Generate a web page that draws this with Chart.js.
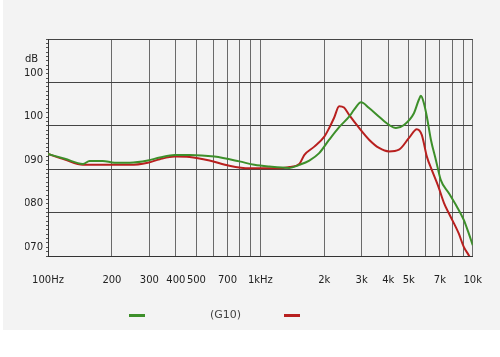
<!DOCTYPE html>
<html>
<head>
<meta charset="utf-8">
<script src="https://cdn.jsdelivr.net/npm/chart.js@4/dist/chart.umd.min.js"></script>
<style>
  html, body { margin: 0; padding: 0; }
  body { width: 500px; height: 357px; background: #ffffff; position: relative; overflow: hidden; font-family: "DejaVu Sans", sans-serif; }
  #bg { position: absolute; left: 3px; top: 0; width: 497px; height: 330px; background: #f3f3f3; }
  #wrap { position: absolute; left: 0; top: 0; width: 500px; height: 357px; }
  .leg { position: absolute; font-size: 11px; color: #444; }
  .swatch { position: absolute; height: 3px; width: 16px; }
</style>
</head>
<body>
<div id="bg"></div>
<div id="wrap"><canvas id="c" width="500" height="357"></canvas></div>
<div id="legend"></div>
<script>
// ---- data ----
const seriesNames = ["(G10)", ""];
const seriesColors = ["#3d8f2a", "#b8201f"];

const greenHz = [100, 120, 146, 157, 181, 206, 243, 295, 336, 395, 464, 608, 796, 937, 1102, 1368, 1525, 1700, 1892, 2109, 2350, 2618, 2763, 2979, 3250, 3622, 4035, 4350, 4745, 5285, 5574, 5698, 5888, 6081, 6353, 6700, 7075, 7709, 8410, 9073, 9576, 10000];
const greenDb = [93.5, 92.4, 91.2, 91.9, 91.9, 91.5, 91.5, 92.0, 92.7, 93.3, 93.3, 92.9, 91.8, 91.0, 90.6, 90.3, 91.0, 92.0, 93.7, 96.8, 99.7, 102.1, 103.7, 105.4, 104.1, 102.1, 100.2, 99.5, 100.2, 102.9, 106.0, 106.9, 105.2, 102.1, 96.8, 92.2, 87.5, 84.5, 81.4, 78.3, 75.2, 72.5];

const redHz = [100, 120, 146, 243, 295, 336, 395, 464, 576, 714, 887, 1228, 1368, 1525, 1612, 1795, 2000, 2109, 2222, 2350, 2477, 2618, 2917, 3250, 3622, 4035, 4495, 5010, 5454, 5754, 6081, 6420, 6890, 7325, 7709, 8590, 9073, 9576, 10000];
const redDb = [93.5, 92.2, 91.0, 91.0, 91.5, 92.3, 92.9, 92.8, 92.0, 90.8, 90.2, 90.2, 90.5, 91.2, 93.3, 95.2, 97.5, 99.5, 101.8, 104.5, 104.2, 102.5, 99.5, 96.8, 94.9, 94.1, 94.5, 97.2, 99.2, 97.9, 92.9, 89.8, 86.0, 82.2, 79.9, 75.2, 72.1, 70.2, 68.5];

const xGridHz = [100, 200, 300, 400, 500, 600, 700, 800, 900, 1000, 2000, 3000, 4000, 5000, 6000, 7000, 8000, 9000, 10000];
const xTickLabels = {100: "100Hz", 200: "200", 300: "300", 400: "400", 500: "500", 700: "700", 1000: "1kHz", 2000: "2k", 3000: "3k", 4000: "4k", 5000: "5k", 7000: "7k", 10000: "10k"};
const yTickLabels = {70: "070", 80: "080", 90: "090", 100: "100", 110: "100"};
const yUnit = "dB";

// ---- build ----
const toPts = (xs, ys) => xs.map((x, i) => ({x: x, y: ys[i]}));

// legend (HTML)
const legend = document.getElementById("legend");
const legPos = [{sx: 129, tx: 210}, {sx: 284, tx: 318}];
seriesNames.forEach((n, i) => {
  const s = document.createElement("div");
  s.className = "swatch";
  s.style.left = legPos[i].sx + "px";
  s.style.top = "314px";
  s.style.background = seriesColors[i];
  legend.appendChild(s);
  const t = document.createElement("div");
  t.className = "leg";
  t.style.left = legPos[i].tx + "px";
  t.style.top = "308px";
  t.textContent = n;
  legend.appendChild(t);
});

const unitPlugin = {
  id: "unit",
  afterDraw(chart) {
    const y = chart.scales.y;
    const ctx = chart.ctx;
    ctx.save();
    ctx.font = "10px 'DejaVu Sans'";
    ctx.fillStyle = "#222";
    ctx.textAlign = "left";
    ctx.textBaseline = "middle";
    ctx.fillText(yUnit, 25, y.getPixelForValue(110) - 23);
    ctx.restore();
  }
};

new Chart(document.getElementById("c"), {
  type: "line",
  data: {
    datasets: [
      {label: seriesNames[0], data: toPts(greenHz, greenDb), borderColor: seriesColors[0], borderWidth: 2, pointRadius: 0, cubicInterpolationMode: "monotone", fill: false},
      {label: seriesNames[1], data: toPts(redHz, redDb), borderColor: seriesColors[1], borderWidth: 2, pointRadius: 0, cubicInterpolationMode: "monotone", fill: false}
    ]
  },
  options: {
    responsive: false,
    animation: false,
    events: [],
    layout: {padding: {left: 25, top: 39, right: 22.7, bottom: 0}},
    plugins: {legend: {display: false}, tooltip: {enabled: false}},
    scales: {
      x: {
        type: "logarithmic",
        min: 100, max: 10000,
        afterBuildTicks: s => { s.ticks = xGridHz.map(v => ({value: v})); },
        afterFit: s => { s.height = 101; },
        grid: {color: "#6a6a6a", lineWidth: 1, drawTicks: false},
        border: {color: "#333", width: 1},
        ticks: {
          autoSkip: false, maxRotation: 0, padding: 18,
          color: "#222", font: {family: "DejaVu Sans", size: 10},
          callback: (v) => xTickLabels[v] || ""
        }
      },
      y: {
        min: 70, max: 120,
        afterBuildTicks: s => { const t = []; for (let v = 70; v <= 120; v++) t.push({value: v}); s.ticks = t; },
        afterFit: s => { s.width = 23; },
        grid: {
          color: c => (c.tick && c.tick.value % 10 === 0) ? "#444" : "rgba(0,0,0,0)",
          tickColor: "#555", tickLength: 2, lineWidth: 1
        },
        border: {color: "#333", width: 1},
        ticks: {
          autoSkip: false, padding: 3, labelOffset: -9,
          color: "#222", font: {family: "DejaVu Sans", size: 10},
          callback: (v) => yTickLabels[v] || ""
        }
      }
    }
  },
  plugins: [unitPlugin]
});
</script>
</body>
</html>
